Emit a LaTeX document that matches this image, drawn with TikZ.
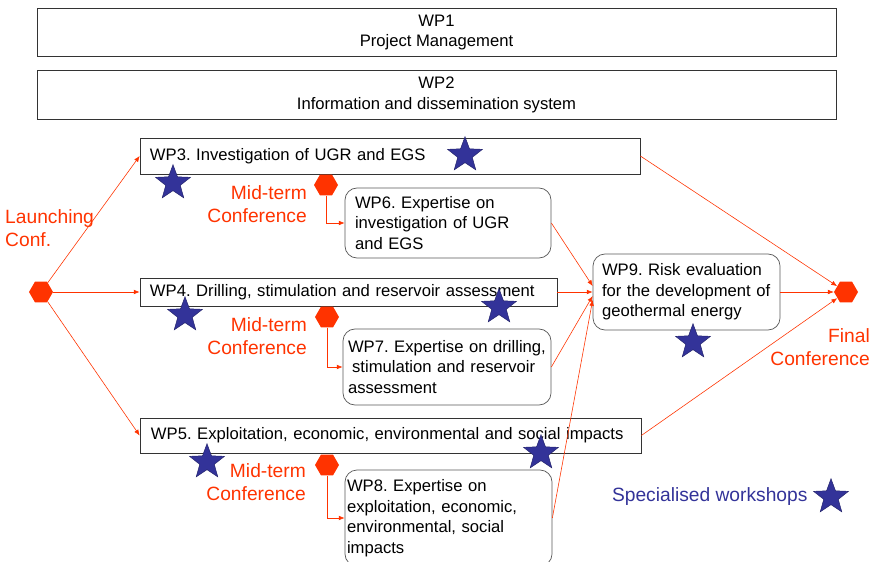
\documentclass[tikz,border=0pt]{standalone}
\usepackage{fontspec}
\setmainfont{Liberation Sans}
\usetikzlibrary{positioning, arrows.meta, shapes.geometric}
\definecolor{confred}{HTML}{FF3300}
\definecolor{wsblue}{HTML}{333399}

\begin{document}
\begin{tikzpicture}[x=0.03cm, y=-0.03cm, >={Latex[length=5pt,width=4pt]},
  wp/.style={draw=black!80, line width=0.6pt, inner xsep=0.3cm, align=left, font=\fontsize{14.2}{17.5}\selectfont\frenchspacing},
  wpwide/.style={wp, align=center, minimum width=23.97cm, minimum height=1.46cm},
  expert/.style={wp, rounded corners=0.36cm, draw=black!65},
  conf/.style={regular polygon, regular polygon sides=6, minimum size=0.72cm, inner sep=0pt, fill=confred},
  conflabel/.style={text=confred, inner sep=0pt, align=right, font=\fontsize{16.4}{19.6}\selectfont},
  workshop/.style={star, star points=5, star point ratio=2.4, minimum size=1.1cm, inner sep=0pt, fill=wsblue, draw=wsblue!70!black},
  flow/.style={->, draw=confred, line width=0.5pt}]
  \useasboundingbox (0,0) rectangle (869,562);

  % project-wide work packages
  \node[wpwide] (wp1) at (436.5,32.5) {WP1\\Project Management};
  \node[wpwide] (wp2) at (436.5,95) {WP2\\Information and dissemination system};

  % research work packages
  \node[wp, text width=14.4cm, minimum height=1.08cm] (wp3) at (390,156) {WP3. Investigation of UGR and EGS};
  \node[wp, text width=11.91cm, minimum height=0.84cm] (wp4) at (348.5,292) {WP4. Drilling, stimulation and reservoir assessment};
  \node[wp, inner xsep=0.33cm, text width=14.37cm, minimum height=1.05cm] (wp5) at (390.5,435.5) {WP5. Exploitation, economic, environmental and social impacts};

  % expertise work packages
  \node[expert, text width=5.58cm, minimum height=2.1cm] (wp6) at (448,223) {WP6. Expertise on\\investigation of UGR\\and EGS};
  \node[expert, inner xsep=0.15cm, text width=5.94cm, minimum height=2.28cm] (wp7) at (447,367) {WP7. Expertise on drilling,\\\hspace*{0.25em}stimulation and reservoir\\assessment};
  \node[expert, inner xsep=0.06cm, text width=6.09cm, minimum height=2.88cm] (wp8) at (448.5,518) {WP8. Expertise on\\exploitation, economic,\\environmental, social\\impacts};
  \node[expert, inner xsep=0.27cm, text width=5.07cm, minimum height=2.28cm] (wp9) at (686.5,292) {WP9. Risk evaluation\\for the development of\\geothermal energy};

  % conferences
  \node[conf] (launch) at (41,292) {};
  \node[conf] (final) at (846,292) {};
  \node[conf] (mid3) at (326,185) {};
  \node[conf] (mid4) at (327,317) {};
  \node[conf] (mid5) at (327,465) {};
  \node[conflabel, anchor=west, align=left] (launchlabel) at (5,228.5) {Launching\\Conf.};
  \node[conflabel, anchor=east] (finallabel) at (870,347.5) {Final\\Conference};
  \node[conflabel, anchor=east] (midlabel3) at (307,204) {Mid-term\\Conference};
  \node[conflabel, anchor=east] (midlabel4) at (307,336.5) {Mid-term\\Conference};
  \node[conflabel, anchor=east] (midlabel5) at (306,482) {Mid-term\\Conference};

  % flow between work packages
  \draw[flow] (launch) -- (wp3.west);
  \draw[flow] (launch) -- (wp4.west);
  \draw[flow] (launch) -- (wp5.west);
  \draw[flow] (mid3) |- (wp6.west);
  \draw[flow] (mid4) |- (wp7.west);
  \draw[flow] (mid5) |- (wp8.west);
  \draw[flow] (wp6.east) -- ([yshift=0.18cm]wp9.west);
  \draw[flow] (wp4.east) -- (wp4.east -| wp9.west);
  \draw[flow] (wp7.east) -- ([yshift=-0.12cm]wp9.west);
  \draw[flow] (wp8.east) -- ([yshift=-0.24cm]wp9.west);
  \draw[flow] (wp9.east) -- (final);
  \draw[flow] (wp3.east) -- (final);
  \draw[flow] (wp5.east) -- (final);

  % specialised workshops
  \node[workshop] (ws3a) at (173,183) {};
  \node[workshop] (ws3b) at (465,155) {};
  \node[workshop] (ws4a) at (185,315) {};
  \node[workshop] (ws4b) at (499,307) {};
  \node[workshop] (ws5a) at (207,462) {};
  \node[workshop] (ws5b) at (541,453) {};
  \node[workshop] (ws9) at (693,342) {};
  \node[workshop] (wslegend) at (831,497) {};
  \node[text=wsblue, inner sep=0pt, font=\fontsize{16.4}{19.6}\selectfont, left=0.38cm of wslegend] (wstext) {Specialised workshops};
\end{tikzpicture}
\end{document}
